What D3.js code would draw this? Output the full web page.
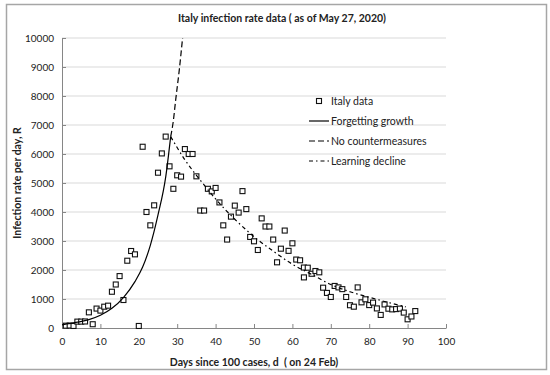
<!DOCTYPE html>
<html>
<head>
<meta charset="utf-8">
<script src="https://cdn.jsdelivr.net/npm/d3@7/dist/d3.min.js"></script>
<style>
  body { margin: 0; background: #fff; }
  svg { font-family: Lato, "Open Sans", sans-serif; display: block; }
</style>
</head>
<body>
<div id="wrapper"></div>
<script>
// # Data
const dataDays = [1, 2, 3, 4, 5, 6, 7, 8, 9, 10, 11, 12, 13, 14, 15, 16, 17, 18, 19, 20,
  21, 22, 23, 24, 25, 26, 27, 28, 29, 30, 31, 32, 33, 34, 35, 36, 37, 38, 39, 40,
  41, 42, 43, 44, 45, 46, 47, 48, 49, 50, 51, 52, 53, 54, 55, 56, 57, 58, 59, 60,
  61, 62, 63, 63, 64, 65, 66, 67, 68, 69, 70, 71, 72, 73, 74, 75, 76, 77, 78, 79,
  80, 81, 82, 83, 84, 85, 86, 87, 88, 89, 90, 91, 92];
const dataRates = [80, 85, 70, 220, 220, 225, 540, 130, 670, 600, 735, 770, 1250, 1500, 1790, 965, 2320, 2655, 2540, 70,
  6250, 4000, 3540, 4230, 5355, 6020, 6600, 5575, 4800, 5265, 5220, 6170, 6000, 6000, 5230, 4050, 4050, 4800, 4710, 4830,
  4330, 3540, 3050, 3840, 4220, 3980, 4720, 4100, 3140, 2990, 2690, 3780, 3500, 3500, 3050, 2265, 2735, 3360, 2660, 2920,
  2360, 2335, 2085, 1745, 2080, 1870, 1965, 1920, 1390, 1210, 1070, 1450, 1400, 1340, 1070, 785, 735, 1400, 885, 990,
  790, 875, 675, 451, 813, 665, 642, 652, 669, 531, 300, 397, 584];

// Forgetting growth (solid curve)
const growthDays = [0, 4, 7, 10, 13, 16, 19, 21, 23, 25, 27, 28.3];
const growthRates = [110, 200, 290, 440, 680, 1050, 1600, 2100, 2850, 3900, 5200, 6600];

// No countermeasures (dashed curve)
const noCounterDays = [28.3, 29, 29.6, 30.5, 31.4];
const noCounterRates = [6600, 7150, 7860, 8850, 10000];

// Learning decline (dash-dot curve)
const declineDays = [28.3, 32, 36, 40, 45, 50, 55, 60, 65, 70, 75, 80, 85, 89.5];
const declineRates = [6600, 5800, 5100, 4450, 3750, 3150, 2650, 2200, 1850, 1500, 1250, 1060, 880, 730];

const xTicks = [0, 10, 20, 30, 40, 50, 60, 70, 80, 90, 100];
const yTicks = [0, 1000, 2000, 3000, 4000, 5000, 6000, 7000, 8000, 9000, 10000];

// # Dimensions
let dimensions = {
  width: 550,
  height: 375,
  margin: { top: 38, right: 104, bottom: 47, left: 62 },
};
dimensions.boundedWidth = dimensions.width - dimensions.margin.left - dimensions.margin.right;
dimensions.boundedHeight = dimensions.height - dimensions.margin.top - dimensions.margin.bottom;

// # Canvas
const wrapper = d3.select("#wrapper")
  .append("svg")
  .attr("width", dimensions.width)
  .attr("height", dimensions.height);

// chart area border
wrapper.append("rect")
  .attr("x", 6.5).attr("y", 4.5)
  .attr("width", 540).attr("height", 365)
  .attr("fill", "#fff")
  .attr("stroke", "#a6a6a6")
  .attr("stroke-width", 1.5);

const bounds = wrapper.append("g")
  .attr("transform", `translate(${dimensions.margin.left},${dimensions.margin.top})`);

// # Scales
const xScale = d3.scaleLinear().domain([0, 100]).range([0, dimensions.boundedWidth]);
const yScale = d3.scaleLinear().domain([0, 10000]).range([dimensions.boundedHeight, 0]);

// # Gridlines
bounds.append("g")
  .selectAll("line")
  .data(yTicks.filter(d => d > 0))
  .join("line")
  .attr("x1", 0)
  .attr("x2", dimensions.boundedWidth)
  .attr("y1", d => yScale(d))
  .attr("y2", d => yScale(d))
  .attr("stroke", "#d9d9d9")
  .attr("stroke-width", 1);

// # Axes
const xAxis = bounds.append("g")
  .attr("transform", `translate(0,${dimensions.boundedHeight})`)
  .call(d3.axisBottom(xScale).tickValues(xTicks).tickSize(-4).tickSizeOuter(0).tickPadding(10));

const yAxis = bounds.append("g")
  .call(d3.axisLeft(yScale).tickValues(yTicks).tickSize(-4).tickSizeOuter(0).tickPadding(8)
    .tickFormat(d3.format("d")));

[xAxis, yAxis].forEach(ax => {
  ax.select(".domain").attr("stroke", "#868686");
  ax.selectAll(".tick line").attr("stroke", "#868686");
  ax.selectAll("text")
    .attr("fill", "#222")
    .style("font-size", "10px")
    .style("font-family", "Lato, 'Open Sans', sans-serif");
});

// # Data markers
const points = dataDays.map((d, i) => ({ x: d, y: dataRates[i] }));
const sq = 5;
bounds.append("g")
  .selectAll("rect")
  .data(points)
  .join("rect")
  .attr("x", d => xScale(d.x) - sq / 2)
  .attr("y", d => yScale(d.y) - sq / 2)
  .attr("width", sq)
  .attr("height", sq)
  .attr("fill", "#fff")
  .attr("stroke", "#111")
  .attr("stroke-width", 1.1);

// # Model curves
const lineGen = d3.line()
  .x(d => xScale(d[0]))
  .y(d => yScale(d[1]))
  .curve(d3.curveMonotoneX);

const curves = [
  { xs: growthDays, ys: growthRates, dash: null },
  { xs: noCounterDays, ys: noCounterRates, dash: "6 3" },
  { xs: declineDays, ys: declineRates, dash: "4 3 1.5 3" },
];

curves.forEach(c => {
  bounds.append("path")
    .datum(c.xs.map((x, i) => [x, c.ys[i]]))
    .attr("d", lineGen)
    .attr("fill", "none")
    .attr("stroke", "#000")
    .attr("stroke-width", 1.2)
    .attr("stroke-dasharray", c.dash);
});

// # Legend
const legendItems = ["Italy data", "Forgetting growth", "No countermeasures", "Learning decline"];
const legendDash = [null, null, "6 3", "4 3 1.5 3"];
const legend = wrapper.append("g").attr("transform", "translate(309,101)");
legendItems.forEach((label, i) => {
  const g = legend.append("g").attr("transform", `translate(0,${i * 20})`);
  if (i === 0) {
    g.append("rect")
      .attr("x", 10 - sq / 2).attr("y", -sq / 2)
      .attr("width", sq).attr("height", sq)
      .attr("fill", "#fff").attr("stroke", "#111").attr("stroke-width", 1.1);
  } else {
    g.append("line")
      .attr("x1", 0).attr("x2", 20)
      .attr("stroke", "#000").attr("stroke-width", 1.2)
      .attr("stroke-dasharray", legendDash[i]);
  }
  g.append("text")
    .attr("x", 22)
    .attr("dy", "0.35em")
    .attr("fill", "#222")
    .style("font-size", "10.5px")
    .text(label);
});

// # Titles
wrapper.append("text")
  .attr("x", 282).attr("y", 22)
  .attr("text-anchor", "middle")
  .style("font-size", "10.5px")
  .style("font-weight", "bold")
  .attr("fill", "#222")
  .text("Italy infection rate data ( as of May 27, 2020)");

wrapper.append("text")
  .attr("x", 254).attr("y", 366)
  .attr("text-anchor", "middle")
  .style("font-size", "10.5px")
  .style("font-weight", "bold")
  .attr("fill", "#222")
  .attr("xml:space", "preserve")
  .style("white-space", "pre")
  .text("Days since 100 cases, d  ( on 24 Feb)");

wrapper.append("text")
  .attr("transform", `translate(21,${dimensions.margin.top + dimensions.boundedHeight / 2}) rotate(-90)`)
  .attr("text-anchor", "middle")
  .style("font-size", "10.5px")
  .style("font-weight", "bold")
  .attr("fill", "#222")
  .text("Infection rate per day, R");
</script>
</body>
</html>
